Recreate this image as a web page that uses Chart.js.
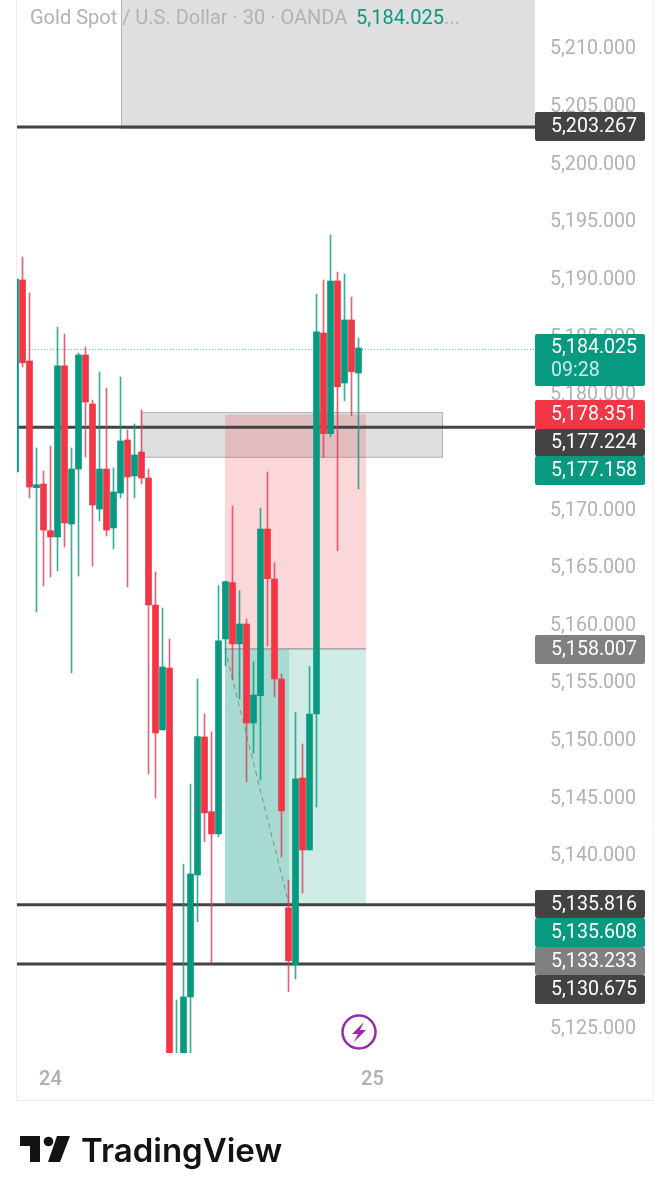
<!DOCTYPE html>
<html>
<head>
<meta charset="utf-8">
<style>
  html, body { margin: 0; padding: 0; background: #fff; }
  canvas { display: block; }
</style>
<script src="https://cdn.jsdelivr.net/npm/chart.js@4"></script>
</head>
<body>
<canvas id="myChart" width="654" height="1200"></canvas>
<script>
// candles, oldest first (the last few lows/bottoms run under the visible range)
let opens = [5173.35, 5190.01, 5182.98, 5171.99, 5172.31, 5168.26, 5167.72, 5182.55, 5168.84, 5173.61,
    5183.50, 5179.25, 5170.14, 5173.61, 5168.50, 5171.53, 5176.13, 5173.01, 5175.09, 5172.83,
    5161.82, 5150.98, 5156.35, 5119.00, 5118.00, 5127.82, 5138.40, 5150.37, 5143.89, 5141.96,
    5158.87, 5163.75, 5158.44, 5160.17, 5151.58, 5153.95, 5168.41, 5164.07, 5155.40, 5135.56,
    5130.60, 5146.81, 5140.57, 5152.36, 5185.41, 5176.68, 5189.92, 5181.07, 5186.54, 5181.94];
let highs = [5190.09, 5192.00, 5188.88, 5175.44, 5173.44, 5175.61, 5185.93, 5185.32, 5175.44, 5183.67,
    5184.19, 5179.60, 5182.03, 5180.64, 5173.70, 5181.59, 5177.00, 5177.52, 5178.73, 5173.61,
    5164.68, 5161.56, 5158.87, 5127.56, 5139.35, 5146.29, 5155.40, 5152.37, 5150.83, 5163.49,
    5163.90, 5170.40, 5163.06, 5160.60, 5156.90, 5170.23, 5173.35, 5165.49, 5155.83, 5137.97,
    5152.48, 5149.76, 5156.47, 5188.79, 5190.01, 5193.91, 5190.70, 5190.53, 5188.53, 5184.98];
let lows = [5173.35, 5182.46, 5171.10, 5161.21, 5163.47, 5164.25, 5164.77, 5166.85, 5155.92, 5164.33,
    5174.65, 5165.20, 5169.10, 5167.80, 5166.68, 5171.10, 5163.38, 5171.10, 5172.31, 5147.16,
    5145.08, 5150.98, 5116.00, 5116.00, 5116.00, 5121.00, 5134.35, 5141.29, 5130.77, 5141.72,
    5156.55, 5155.31, 5153.67, 5146.47, 5148.98, 5146.64, 5158.26, 5153.84, 5139.96, 5128.28,
    5129.38, 5136.84, 5140.57, 5144.30, 5174.59, 5176.42, 5166.53, 5179.54, 5178.24, 5171.88];
let closes = [5190.09, 5182.83, 5172.05, 5172.25, 5168.32, 5167.72, 5182.55, 5168.93, 5173.61, 5183.50,
    5179.42, 5170.49, 5173.61, 5168.32, 5171.62, 5176.04, 5172.92, 5174.83, 5172.83, 5161.82,
    5150.72, 5156.44, 5118.00, 5120.00, 5127.82, 5138.49, 5150.40, 5143.78, 5141.96, 5158.70,
    5163.84, 5158.44, 5160.17, 5151.58, 5154.01, 5168.41, 5164.10, 5155.40, 5143.95, 5130.97,
    5146.73, 5140.57, 5152.36, 5185.50, 5176.68, 5189.92, 5180.75, 5186.54, 5182.05, 5184.11];

let yTicks = [5125, 5130, 5135, 5140, 5145, 5150, 5155, 5160, 5165, 5170, 5175, 5180, 5185, 5190, 5195, 5200, 5205, 5210];
let xTicks = [5, 51];
let xTickLabels = ['24', '25'];

let levels = [5203.267, 5177.224, 5135.816, 5130.675];
let lastPrice = 5184.025;
let entry = 5158.007;
let stop = 5178.351;
let target = 5135.816;

let badgeLabels = ['5,203.267', '5,184.025', '5,178.351', '5,177.224', '5,177.158', '5,158.007', '5,135.816', '5,135.608', '5,133.233', '5,130.675'];
let badgeColors = ['#434343', '#089981', '#f23645', '#434343', '#089981', '#808080', '#434343', '#089981', '#808080', '#434343'];
let badgeTops = [112, 334, 400, 429, 456, 635, 890, 918, 947, 975];
let badgeBottoms = [141, 386, 429, 456, 485, 664, 918, 947, 975, 1004];

const GREEN = '#089981';
const RED = '#f23645';
const GREY = '#b2b2b2';
const FONT = 'Roboto';

let wickData = opens.map((o, i) => ({ x: i, y: [lows[i], highs[i]] }));
let bodyData = opens.map((o, i) => ({ x: i, y: [o, closes[i]] }));
let candleColors = opens.map((o, i) => closes[i] >= o ? GREEN : RED);
let wickColors = opens.map((o, i) => closes[i] >= o ? 'rgba(8, 153, 129, 0.8)' : 'rgba(220, 60, 85, 0.8)');

function box(ctx, x0, x1, y0, y1, fill, stroke) {
    ctx.fillStyle = fill;
    ctx.fillRect(x0, y0, x1 - x0, y1 - y0);
    if (stroke) {
        ctx.strokeStyle = stroke;
        ctx.lineWidth = 1;
        ctx.strokeRect(x0 + 0.5, y0 + 0.5, x1 - x0 - 1, y1 - y0 - 1);
    }
}

// boxes and lines of the drawing tools sit under the candles
let drawings = {
    id: 'drawings',
    beforeDatasetsDraw(chart) {
        let ctx = chart.ctx, a = chart.chartArea;
        let X = v => chart.scales.x.getPixelForValue(v);
        let Y = v => chart.scales.y.getPixelForValue(v);
        ctx.save();
        ctx.beginPath();
        ctx.rect(a.left, a.top, a.right - a.left, a.bottom - a.top);
        ctx.clip();

        box(ctx, X(15.07), a.right + 2, -2, Y(5203.1), '#dfdfdf', '#b4b4b4');
        box(ctx, X(17.93), X(61.07), Y(5178.56), Y(5174.59), '#dfdfdf', '#b4b4b4');

        ctx.fillStyle = 'rgba(242, 54, 69, 0.2)';
        ctx.fillRect(X(29.93), Y(stop), X(50.07) - X(29.93), Y(entry) - Y(stop));
        ctx.fillStyle = 'rgba(8, 153, 129, 0.2)';
        ctx.fillRect(X(29.93), Y(entry), X(50.07) - X(29.93), Y(target) - Y(entry));
        ctx.fillRect(X(29.93), Y(entry), X(39.07) - X(29.93), Y(target) - Y(entry));

        ctx.strokeStyle = '#7f8a88';
        ctx.lineWidth = 1;
        ctx.beginPath();
        ctx.moveTo(X(29.93), Y(entry));
        ctx.lineTo(X(50.07), Y(entry));
        ctx.stroke();

        ctx.setLineDash([5, 4]);
        ctx.beginPath();
        ctx.moveTo(X(29.93), Y(entry));
        ctx.lineTo(X(39.07), Y(target));
        ctx.stroke();
        ctx.setLineDash([]);

        ctx.strokeStyle = '#434343';
        ctx.lineWidth = 3;
        levels.forEach(v => {
            ctx.beginPath();
            ctx.moveTo(a.left, Y(v));
            ctx.lineTo(a.right, Y(v));
            ctx.stroke();
        });

        ctx.strokeStyle = 'rgba(8, 153, 129, 0.6)';
        ctx.lineWidth = 1;
        ctx.setLineDash([1, 2]);
        ctx.beginPath();
        ctx.moveTo(a.left, Math.round(Y(lastPrice)) + 0.5);
        ctx.lineTo(a.right, Math.round(Y(lastPrice)) + 0.5);
        ctx.stroke();
        ctx.restore();
    },
    afterDraw(chart) {
        let ctx = chart.ctx;
        ctx.save();

        // frame
        ctx.strokeStyle = '#eeeeee';
        ctx.lineWidth = 1;
        ctx.beginPath();
        ctx.moveTo(16.5, 0);
        ctx.lineTo(16.5, 1100.5);
        ctx.lineTo(653.5, 1100.5);
        ctx.lineTo(653.5, 0);
        ctx.stroke();

        // title
        ctx.textBaseline = 'alphabetic';
        ctx.textAlign = 'left';
        ctx.font = '20px ' + FONT;
        ctx.fillStyle = GREY;
        ctx.fillText('Gold Spot / U.S. Dollar · 30 · OANDA', 30, 24);
        ctx.fillStyle = GREEN;
        ctx.fillText('5,184.025', 356, 24);
        ctx.fillStyle = GREY;
        ctx.fillText('...', 444, 24);

        // price badges
        ctx.font = '19.6px ' + FONT;
        badgeLabels.forEach((t, i) => {
            let top = badgeTops[i], bottom = badgeBottoms[i];
            ctx.fillStyle = badgeColors[i];
            ctx.beginPath();
            ctx.roundRect(535, top, 110, bottom - top, 2);
            ctx.fill();
            ctx.fillStyle = '#ffffff';
            ctx.textBaseline = 'middle';
            if (i == 1) {
                ctx.fillText(t, 551, top + 14);
                ctx.fillStyle = '#c9ece5';
                ctx.fillText('09:28', 551, top + 37);
            } else {
                ctx.fillText(t, 551, (top + bottom) / 2 + 1);
            }
        });

        // lightning icon
        ctx.strokeStyle = '#9c27b0';
        ctx.lineWidth = 2.5;
        ctx.beginPath();
        ctx.arc(359, 1032, 16.5, 0, Math.PI * 2);
        ctx.stroke();
        ctx.fillStyle = '#9c27b0';
        ctx.beginPath();
        ctx.moveTo(364, 1022);
        ctx.lineTo(352, 1034);
        ctx.lineTo(358, 1034);
        ctx.lineTo(354, 1042);
        ctx.lineTo(366, 1030);
        ctx.lineTo(360, 1030);
        ctx.closePath();
        ctx.fill();

        // logo
        ctx.fillStyle = '#131313';
        ctx.beginPath();
        ctx.moveTo(20, 1136);
        ctx.lineTo(40, 1136);
        ctx.lineTo(40, 1162);
        ctx.lineTo(30, 1162);
        ctx.lineTo(30, 1146);
        ctx.lineTo(20, 1146);
        ctx.closePath();
        ctx.fill();
        ctx.beginPath();
        ctx.arc(48.5, 1141.5, 4.8, 0, Math.PI * 2);
        ctx.fill();
        ctx.beginPath();
        ctx.moveTo(57, 1136);
        ctx.lineTo(70, 1136);
        ctx.lineTo(60, 1162);
        ctx.lineTo(48, 1162);
        ctx.closePath();
        ctx.fill();
        ctx.textBaseline = 'alphabetic';
        ctx.font = '600 33px Inter';
        ctx.fillText('TradingView', 81, 1162);
        ctx.restore();
    }
};

let ctx = document.getElementById("myChart").getContext("2d");
let myChart = new Chart(ctx, {
    type: "bar",
    data: {
        datasets: [
            {
                label: 'wicks',
                data: wickData,
                backgroundColor: wickColors,
                borderWidth: 0,
                barThickness: 1,
                grouped: false,
                order: 2,
            },
            {
                label: 'bodies',
                data: bodyData,
                backgroundColor: candleColors,
                borderWidth: 0,
                barThickness: 6,
                grouped: false,
                order: 1,
            }]
    },
    options: {
        responsive: false,
        animation: false,
        layout: { padding: { left: 17 } },
        plugins: {
            legend: { display: false },
            tooltip: { enabled: false }
        },
        scales: {
            x: {
                type: 'linear',
                offset: false,
                min: 0.214,
                max: 74.214,
                grid: { display: false },
                border: { display: false },
                afterBuildTicks: axis => { axis.ticks = xTicks.map(v => ({ value: v })); },
                afterFit: axis => {
                    axis.height = 147;
                    axis.paddingLeft = 0;
                    axis.paddingRight = 0;
                },
                ticks: {
                    color: GREY,
                    autoSkip: false,
                    maxRotation: 0,
                    padding: 7,
                    callback: v => xTickLabels[xTicks.indexOf(v)],
                    font: { family: FONT, size: 20, weight: '600' }
                }
            },
            y: {
                position: 'right',
                offset: false,
                min: 5122.96,
                max: 5214.29,
                grid: { display: false, drawTicks: false },
                border: { display: false },
                afterBuildTicks: axis => { axis.ticks = yTicks.map(v => ({ value: v })); },
                afterFit: axis => {
                    axis.width = 119;
                    axis.paddingTop = 0;
                    axis.paddingBottom = 0;
                },
                ticks: {
                    color: GREY,
                    padding: 15,
                    callback: v => v.toLocaleString('en-US', { minimumFractionDigits: 3 }),
                    font: { family: FONT, size: 19.6 }
                }
            }
        }
    },
    plugins: [drawings]
});
</script>
</body>
</html>
